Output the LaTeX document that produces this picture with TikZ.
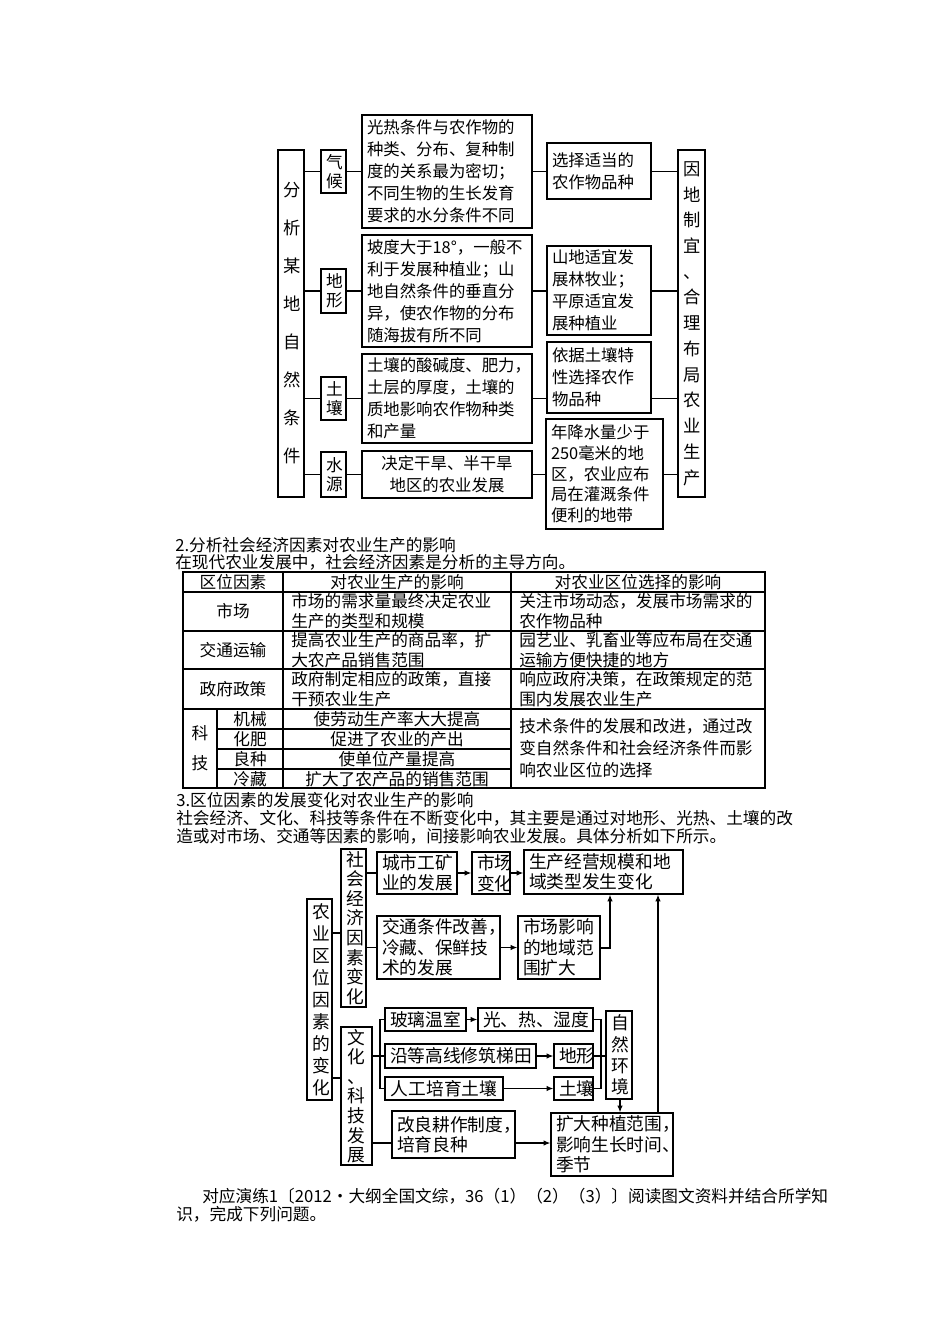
\documentclass[tikz,border=0pt]{standalone}
\usepackage{fontspec}
\setmainfont{Noto Sans CJK SC}
\usetikzlibrary{arrows.meta}
\newcommand\bx[8]{% name x1 y1 x2 y2 align fontsize text
 \pgfmathsetlengthmacro\bw{(#4-#2)*0.75pt}%
 \pgfmathsetlengthmacro\bh{(#5-#3)*0.75pt}%
 \pgfmathsetlengthmacro\tw{(#4-#2-10)*0.75pt}%
 \node[draw, line width=0.9pt, inner sep=0pt, minimum width=\bw, minimum height=\bh, text width=\tw, align=#6, font=#7] (#1) at ({(#2+#4)/2},{(#3+#5)/2}) {#8};}
\begin{document}
\begin{tikzpicture}[x=0.75pt,y=-0.75pt, ln/.style={line width=0.9pt}, ar/.style={line width=0.9pt,-{Latex[length=5pt,width=4pt]}},
 bt/.style={anchor=west,inner sep=0pt,font=\fontsize{12.5}{15}\selectfont},
 tc/.style={inner sep=0pt,font=\fontsize{12.5}{14.5}\selectfont}]
\useasboundingbox[fill=white] (0,0) rectangle (950,1344);
\def\fa{\fontsize{12.5}{14.4}\selectfont}
\def\fv{\fontsize{12.3}{16.5}\selectfont}
% ---------- diagram 1
\bx{L}{278}{150}{304}{497}{center}{\fontsize{13}{28.5}\selectfont}{分\\析\\某\\地\\自\\然\\条\\件}
\bx{R}{678}{150}{705}{497}{center}{\fontsize{13}{19.3}\selectfont}{因\\地\\制\\宜\\、\\合\\理\\布\\局\\农\\业\\生\\产}
\bx{qh}{321}{150}{346}{193}{center}{\fa}{气\\候}
\bx{dx}{321}{269}{346}{313}{center}{\fa}{地\\形}
\bx{tr}{321}{377}{346}{420}{center}{\fa}{土\\壤}
\bx{sy}{321}{452}{346}{497}{center}{\fa}{水\\源}
\bx{t1}{362}{115}{532}{228}{left}{\fv}{光热条件与农作物的\\种类、分布、复种制\\度的关系最为密切；\\不同生物的生长发育\\要求的水分条件不同}
\bx{t2}{362}{235}{532}{347}{left}{\fv}{坡度大于18°，一般不\\利于发展种植业；山\\地自然条件的垂直分\\异，使农作物的分布\\随海拔有所不同}
\bx{t3}{362}{354}{532}{443}{left}{\fv}{土壤的酸碱度、肥力，\\土层的厚度，土壤的\\质地影响农作物种类\\和产量}
\bx{t4}{362}{451}{532}{498}{center}{\fv}{决定干旱、半干旱\\地区的农业发展}
\bx{r1}{547}{143}{651}{199}{left}{\fv}{选择适当的\\农作物品种}
\bx{r2}{547}{246}{651}{335}{left}{\fv}{山地适宜发\\展林牧业；\\平原适宜发\\展种植业}
\bx{r3}{547}{342}{651}{413}{left}{\fv}{依据土壤特\\性选择农作\\物品种}
\bx{r4}{546}{419}{663}{529}{left}{\fontsize{12.3}{15.5}\selectfont}{年降水量少于\\250毫米的地\\区，农业应布\\局在灌溉条件\\便利的地带}
\foreach \s/\t/\r in {qh/t1/r1,dx/t2/r2,tr/t3/r3,sy/t4/r4}{
 \draw[ln] (L.east|-\s.west) -- (\s.west);
 \draw[ln] (\s.east) -- (\s.east-|\t.west);
 \draw[ln] (\s.east-|\t.east) -- (\s.east-|\r.west);
 \draw[ln] (\s.east-|\r.east) -- (\s.east-|R.west);}
% ---------- section 2
\node[bt] (h2) at (175,545) {2.分析社会经济因素对农业生产的影响};
\node[bt] (p2) at (175,562) {在现代农业发展中，社会经济因素是分析的主导方向。};
\draw[line width=0.8pt] (183,572) rectangle (765,788);
\foreach \y in {592,631,669,709} \draw[line width=0.8pt] (183,\y)--(765,\y);
\foreach \y in {729,749,769} \draw[line width=0.8pt] (217,\y)--(511,\y);
\draw[line width=0.8pt] (283,572)--(283,788) (511,572)--(511,788) (217,709)--(217,788);
\node[tc] (c1) at (233,582) {区位因素};
\node[tc] (c2) at (397,582) {对农业生产的影响};
\node[tc] (c3) at (638,582) {对农业区位选择的影响};
\node[tc] (m1) at (233,611) {市场};
\node[tc] (m2) at (233,650) {交通运输};
\node[tc] (m3) at (233,689) {政府政策};
\node[tc,anchor=west,align=left] (a1) at (291,611) {市场的需求量最终决定农业\\生产的类型和规模};
\node[tc,anchor=west,align=left] (a2) at (291,650) {提高农业生产的商品率，扩\\大农产品销售范围};
\node[tc,anchor=west,align=left] (a3) at (291,689) {政府制定相应的政策，直接\\干预农业生产};
\node[tc,anchor=west,align=left] (b1) at (519,611) {关注市场动态，发展市场需求的\\农作物品种};
\node[tc,anchor=west,align=left] (b2) at (519,650) {园艺业、乳畜业等应布局在交通\\运输方便快捷的地方};
\node[tc,anchor=west,align=left] (b3) at (519,689) {响应政府决策，在政策规定的范\\围内发展农业生产};
\node[tc,align=center,font=\fontsize{12.5}{22}\selectfont] (kj) at (200,748) {科\\技};
\node[tc] (k1) at (250,719) {机械};
\node[tc] (k2) at (250,739) {化肥};
\node[tc] (k3) at (250,759) {良种};
\node[tc] (k4) at (250,779) {冷藏};
\node[tc] (d1) at (397,719) {使劳动生产率大大提高};
\node[tc] (d2) at (397,739) {促进了农业的产出};
\node[tc] (d3) at (397,759) {使单位产量提高};
\node[tc] (d4) at (397,779) {扩大了农产品的销售范围};
\node[tc,anchor=west,align=left,font=\fontsize{12.5}{16.5}\selectfont] (b4) at (519,748) {技术条件的发展和改进，通过改\\变自然条件和社会经济条件而影\\响农业区位的选择};
% ---------- section 3
\node[bt] (h3) at (176,800) {3.区位因素的发展变化对农业生产的影响};
\node[bt] (p3) at (176,818) {社会经济、文化、科技等条件在不断变化中，其主要是通过对地形、光热、土壤的改};
\node[bt] (p4) at (176,836) {造或对市场、交通等因素的影响，间接影响农业发展。具体分析如下所示。};
\def\fb{\fontsize{13.3}{15.3}\selectfont}
\bx{M}{307}{899}{332}{1100}{center}{\fontsize{13.3}{16.5}\selectfont}{农\\业\\区\\位\\因\\素\\的\\变\\化}
\bx{S}{341}{849}{366}{1007}{center}{\fontsize{13.3}{14.7}\selectfont}{社\\会\\经\\济\\因\\素\\变\\化}
\bx{W}{341}{1027}{372}{1165}{center}{\fontsize{13.3}{14.7}\selectfont}{文\\化\\、\\科\\技\\发\\展}
\bx{cs}{377}{852}{457}{894}{left}{\fb}{城市工矿\\业的发展}
\bx{sc}{472}{852}{510}{894}{center}{\fb}{市场\\变化}
\bx{sj}{524}{850}{683}{894}{left}{\fb}{生产经营规模和地\\域类型发生变化}
\bx{jt}{377}{916}{500}{979}{left}{\fb}{交通条件改善，\\冷藏、保鲜技\\术的发展}
\bx{yx}{518}{916}{600}{979}{left}{\fb}{市场影响\\的地域范\\围扩大}
\bx{bl}{385}{1008}{466}{1031}{center}{\fb}{玻璃温室}
\bx{gr}{478}{1008}{593}{1031}{center}{\fb}{光、热、湿度}
\bx{yd}{385}{1044}{536}{1068}{center}{\fb}{沿等高线修筑梯田}
\bx{dx2}{554}{1044}{593}{1068}{center}{\fb}{地形}
\bx{rg}{385}{1077}{503}{1100}{center}{\fb}{人工培育土壤}
\bx{tr2}{554}{1077}{593}{1100}{center}{\fb}{土壤}
\bx{zr}{606}{1011}{632}{1099}{center}{\fontsize{13.3}{16}\selectfont}{自\\然\\环\\境}
\bx{gl}{392}{1111}{515}{1158}{left}{\fb}{改良耕作制度，\\培育良种}
\bx{kd}{551}{1113}{673}{1176}{left}{\fb}{扩大种植范围，\\影响生长时间、\\季节}
\coordinate (m1c) at (M.east|-0,933);
\draw[ln] (m1c) -- (S.west|-m1c);
\coordinate (m2c) at (M.east|-0,1078);
\draw[ln] (m2c) -- (W.west|-m2c);
\draw[ln] (S.east|-cs.west) -- (cs.west);
\draw[ln] (S.east|-jt.west) -- (jt.west);
\draw[ar] (cs.east) -- (sc.west);
\draw[ar] (sc.east) -- (sc.east-|sj.west);
\draw[ar] (jt.east) -- (jt.east-|yx.west);
\coordinate (up1) at (610,948);
\draw[ar] (yx.east|-up1) -- (up1) -- (up1|-sj.south);
\coordinate (bkL) at (380,1056);
\draw[ln] (W.east|-bkL) -- (bkL);
\draw[ln] (bl.west) -| (bkL) |- (rg.west);
\draw[ln] (bkL) -- (yd.west);
\draw[ar] (bl.east) -- (gr.west);
\draw[ar] (yd.east) -- (dx2.west);
\draw[ar] (rg.east) -- (tr2.west);
\coordinate (bkR) at (601,1056);
\draw[ln] (gr.east) -| (bkR) |- (tr2.east);
\draw[ln] (dx2.east) -- (bkR) -- (bkR-|zr.west);
\draw[ar] (zr.south-|620,0) -- (kd.north-|620,0);
\draw[ln] (W.east|-0,1143) -- (gl.west|-0,1143);
\draw[ar] (gl.east|-0,1143) -- (kd.west|-0,1143);
\draw[ar] (kd.north-|658,0) -- (sj.south-|658,0);
% ---------- bottom
\node[bt] (q1) at (202,1196) {对应演练1〔2012·大纲全国文综，36（1）（2）（3）〕阅读图文资料并结合所学知};
\node[bt] (q2) at (176,1214) {识，完成下列问题。};
\end{tikzpicture}
\end{document}
